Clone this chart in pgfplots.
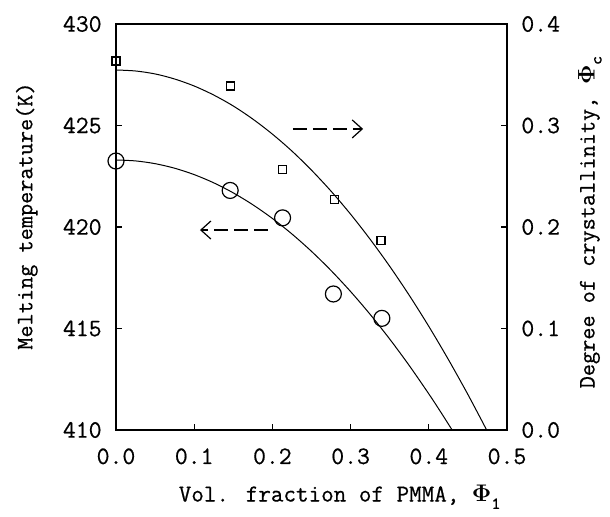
\documentclass[border=0pt]{standalone}
\usepackage{amsmath}
\usepackage{pgfplots}
\pgfplotsset{compat=1.18}
\usepackage{pgfplotstable}
\usepackage{fontspec}
\newfontfamily\monob[FakeBold=0.6]{Latin Modern Mono}
\usetikzlibrary{arrows.meta}

\pgfplotstableread{
x y
0.000 423.30
0.025 423.255
0.050 423.12
0.075 422.895
0.100 422.58
0.125 422.175
0.150 421.68
0.175 421.095
0.200 420.42
0.225 419.655
0.250 418.80
0.275 417.855
0.300 416.82
0.325 415.695
0.350 414.48
0.375 413.175
0.400 411.78
0.415 410.90
0.430 409.99
}\tmcurve

\pgfplotstableread{
x y
0.000 423.25
0.146 421.8
0.213 420.45
0.278 416.7
0.340 415.5
}\tmdata

\pgfplotstableread{
x y
0.000 0.3547
0.025 0.3537
0.050 0.3508
0.075 0.3458
0.100 0.3389
0.125 0.3300
0.150 0.3192
0.175 0.3063
0.200 0.2915
0.225 0.2748
0.250 0.2560
0.275 0.2353
0.300 0.2126
0.325 0.1879
0.350 0.1613
0.375 0.1327
0.400 0.1021
0.425 0.0695
0.450 0.0350
0.474 0.0000
}\phicurve

\pgfplotstableread{
x y
0.000 0.3635
0.146 0.339
0.213 0.257
0.279 0.227
0.339 0.187
}\phidata

\newcommand{\sub}[1]{\raisebox{-0.7ex}{\fontsize{8.5}{10}\selectfont #1}}
\newcommand{\ylabfont}{\monob\fontsize{11.8}{14}\selectfont}
\newcommand{\xlabfont}{\monob\fontsize{12.2}{14}\selectfont}

\begin{document}
\begin{tikzpicture}[font=\monob\fontsize{12.5}{14}\selectfont]
\pgfplotsset{
  common/.style={
    scale only axis, width=195.5pt, height=203pt,
    xmin=0, xmax=0.5,
    tick align=inside, major tick length=3pt,
    tick style={line width=0.6pt, black},
    axis line style={line width=0.8pt},
    /pgf/number format/assume math mode=true,
  }
}
\begin{axis}[
  common,
  ymin=410, ymax=430,
  xtick={0,0.1,0.2,0.3,0.4,0.5},
  ytick={410,415,420,425,430},
  xtick pos=bottom, ytick pos=left,
  xticklabel={\pgfmathprintnumber[fixed,fixed zerofill,precision=1]{\tick}},
  xticklabel style={anchor=north, inner sep=0pt, yshift=-9pt},
  yticklabel style={anchor=east, inner sep=0pt, xshift=-7pt},
  xlabel={\xlabfont Vol. fraction of PMMA, $\boldsymbol{\Phi}$\sub{1}},
  xlabel style={at={(axis description cs:0.572,-0.165)}, anchor=center},
  ylabel={\ylabfont Melting temperature(K)},
  ylabel style={at={(axis description cs:-0.228,0.527)}, anchor=center},
]
\addplot[black, line width=0.5pt, smooth] table {\tmcurve};
\addplot[black, only marks, mark=o, mark size=4pt, mark options={line width=0.6pt}] table {\tmdata};
\draw[black, line width=0.6pt, dash pattern=on 7pt off 3pt, -{Straight Barb[length=5pt,width=9pt]}]
  (axis cs:0.2263,424.83) -- (axis cs:0.316,424.83);
\draw[black, line width=0.6pt, dash pattern=on 7pt off 3pt, -{Straight Barb[length=5pt,width=9pt]}]
  (axis cs:0.194,419.85) -- (axis cs:0.1074,419.85);
\end{axis}
\begin{axis}[
  common,
  ymin=0, ymax=0.4,
  axis x line=none, axis y line*=right,
  ytick={0,0.1,0.2,0.3,0.4},
  ytick pos=right,
  yticklabel={\pgfmathprintnumber[fixed,fixed zerofill,precision=1]{\tick}},
  yticklabel style={anchor=west, inner sep=0pt, xshift=7pt},
  ylabel={\ylabfont Degree of crystallinity, $\boldsymbol{\Phi}$\sub{c}},
  ylabel style={at={(axis description cs:1.212,0.512)}, anchor=center, rotate=0},
]
\addplot[black, line width=0.5pt, smooth] table {\phicurve};
\addplot[black, only marks, mark=square, mark size=2pt, mark options={line width=0.6pt}] table {\phidata};
\end{axis}
\pgfresetboundingbox
\path[use as bounding box] ([shift={(-58pt,-43.5pt)}]current axis.south west) rectangle ([shift={(51.5pt,12pt)}]current axis.north east);
\end{tikzpicture}
\end{document}
